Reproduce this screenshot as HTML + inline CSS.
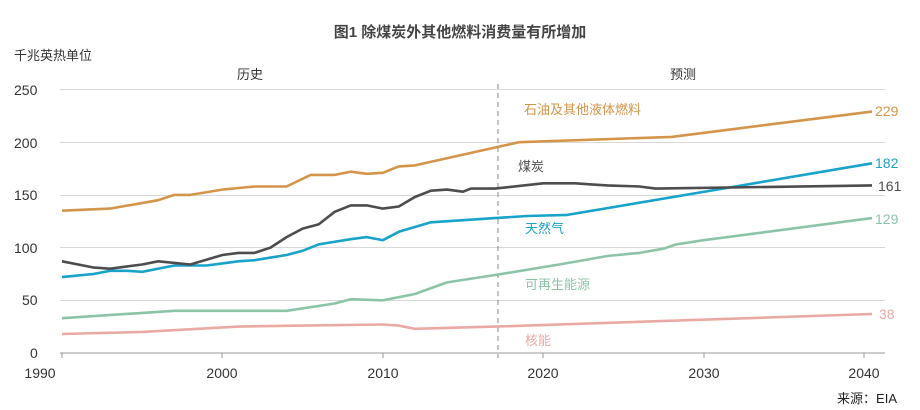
<!DOCTYPE html>
<html><head><meta charset="utf-8"><style>
body{margin:0;background:#fff;}
svg{display:block;font-family:"Liberation Sans","Noto Sans CJK SC",sans-serif;}
</style></head><body>
<svg id="s" width="920" height="410" viewBox="0 0 920 410" xmlns="http://www.w3.org/2000/svg">
<rect width="920" height="410" fill="#fff"/>
<text x="460" y="37" text-anchor="middle" font-size="15" font-weight="bold" fill="#444">图1 除煤炭外其他燃料消费量有所增加</text>
<text x="14" y="60" font-size="13" fill="#333">千兆英热单位</text>
<text x="250" y="79" text-anchor="middle" font-size="13" fill="#333">历史</text>
<text x="683" y="79" text-anchor="middle" font-size="13" fill="#333">预测</text>
<g stroke="#d8d8d8" stroke-width="1">
<line x1="60" x2="885" y1="89.5" y2="89.5"/><line x1="60" x2="885" y1="142.5" y2="142.5"/>
<line x1="60" x2="885" y1="195.5" y2="195.5"/><line x1="60" x2="885" y1="247.5" y2="247.5"/>
<line x1="60" x2="885" y1="300.5" y2="300.5"/>
</g>
<line x1="60" x2="885" y1="353" y2="353" stroke="#999" stroke-width="1"/>
<g stroke="#999"><line x1="62" x2="62" y1="353" y2="358"/><line x1="222" x2="222" y1="353" y2="358"/><line x1="383" x2="383" y1="353" y2="358"/><line x1="543" x2="543" y1="353" y2="358"/><line x1="704" x2="704" y1="353" y2="358"/><line x1="864" x2="864" y1="353" y2="358"/></g>
<line x1="498" x2="498" y1="84" y2="358" stroke="#888" stroke-dasharray="5,4"/>
<g font-size="14" fill="#333">
<text x="14" y="95">250</text><text x="14" y="148">200</text><text x="14" y="200">150</text><text x="14" y="253">100</text><text x="22" y="305">50</text><text x="30" y="358">0</text>
</g>
<g font-size="14" fill="#333" text-anchor="middle">
<text x="40" y="378">1990</text><text x="222" y="378">2000</text><text x="383" y="378">2010</text><text x="543" y="378">2020</text><text x="704" y="378">2030</text><text x="864" y="378">2040</text>
</g>
<text x="897" y="403" text-anchor="end" font-size="13" fill="#222">来源：EIA</text>
<g font-size="13">
<text x="524" y="114" fill="#d4954a">石油及其他液体燃料</text>
<text x="518" y="171" fill="#4d4d4f">煤炭</text>
<text x="525" y="233" fill="#1aa3c9">天然气</text>
<text x="525" y="289" fill="#8cc4a7">可再生能源</text>
<text x="525" y="345" fill="#e9aaa3">核能</text>
</g>
<g font-size="14">
<text x="875" y="116" fill="#d4954a">229</text>
<text x="875" y="168" fill="#1aa3c9">182</text>
<text x="878" y="191" fill="#4d4d4f">161</text>
<text x="875" y="224" fill="#8cc4a7">129</text>
<text x="879" y="319" fill="#e9aaa3">38</text>
</g>
<g id="lines" fill="none" stroke-width="2.6" stroke-linejoin="round"></g>
</svg>
<script>
function X(y){return 62+(y-1990)*16.04;}function Y(v){return 353-v*1.054;}
var S=[
["#e9aaa3",[[1990,18],[1995,20],[2001,25],[2005,26],[2010,27],[2011,26],[2012,23],[2017,25],[2040.5,37]]],
["#8cc4a7",[[1990,33],[1997,40],[2004,40],[2007,47],[2008,51],[2010,50],[2012,56],[2014,67],[2017,74],[2021,84],[2024,92],[2026,95],[2027.5,99],[2028.3,103],[2030,107],[2040.5,128]]],
["#1aa3c9",[[1990,72],[1992,75],[1993,78],[1994,78],[1995,77],[1997,83],[1999,83],[2000,85],[2001,87],[2002,88],[2004,93],[2005,97],[2006,103],[2008,108],[2009,110],[2010,107],[2011,115],[2013,124],[2017,128],[2019,130],[2021.5,131],[2040.5,180]]],
["#4d4d4f",[[1990,87],[1992,81],[1993,80],[1994,82],[1995,84],[1996,87],[1998,84],[2000,93],[2001,95],[2002,95],[2003,100],[2004,110],[2005,118],[2006,122],[2007,134],[2008,140],[2009,140],[2010,137],[2011,139],[2012,148],[2013,154],[2014,155],[2015,153],[2015.5,156],[2017,156],[2020,161],[2022,161],[2023,160],[2024,159],[2026,158],[2027,156],[2040.5,159]]],
["#d4954a",[[1990,135],[1993,137],[1996,145],[1997,150],[1998,150],[2000,155],[2002,158],[2004,158],[2005.5,169],[2007,169],[2008,172],[2009,170],[2010,171],[2011,177],[2012,178],[2017,195],[2018.5,200],[2028,205],[2040.5,229]]]];
var g=document.getElementById("lines"),h="";
S.forEach(function(s){h+='<polyline stroke="'+s[0]+'" points="'+s[1].map(function(p){return X(p[0]).toFixed(1)+","+Y(p[1]).toFixed(1);}).join(" ")+'"/>';});
g.innerHTML=h;
</script>
</body></html>
